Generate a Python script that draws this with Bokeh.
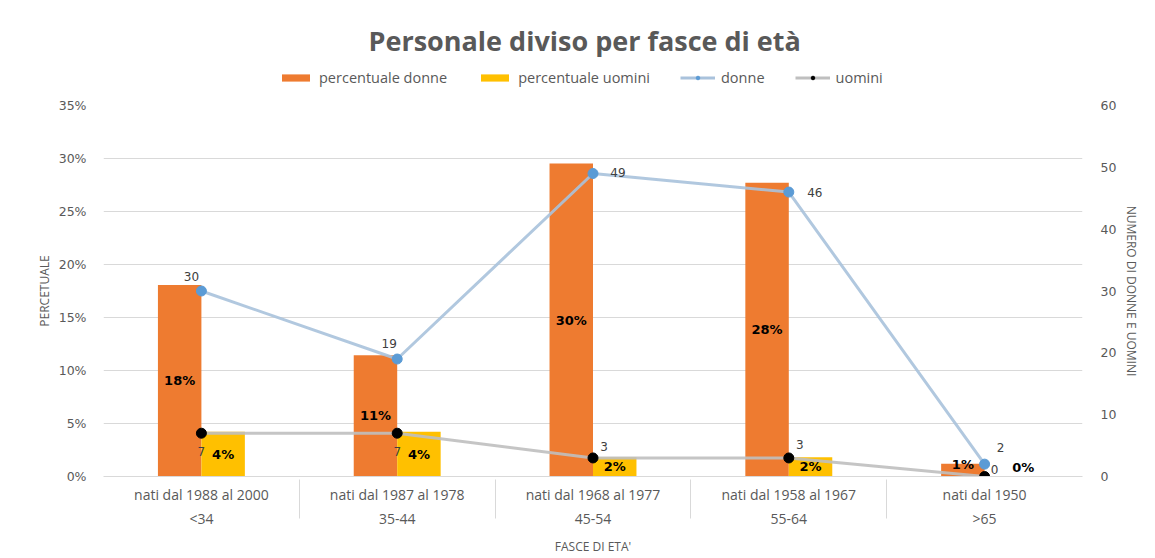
from bokeh.plotting import figure
from bokeh.layouts import column
from bokeh.models import (FactorRange, Range1d, LinearAxis, FixedTicker, NumeralTickFormatter,
                          Legend, LegendItem, ColumnDataSource)
from bokeh.transform import dodge
from bokeh.core.properties import value
from bokeh.embed import file_html
from bokeh.resources import INLINE

# ---------------- data ----------------
birth_ranges = ["nati dal 1988 al 2000", "nati dal 1987 al 1978", "nati dal 1968 al 1977",
                "nati dal 1958 al 1967", "nati dal 1950"]
age_bands = ["<34", "35-44", "45-54", "55-64", ">65"]
pct_donne = [0.1807, 0.1145, 0.2952, 0.2771, 0.0120]
pct_uomini = [0.0422, 0.0422, 0.0181, 0.0181, 0.0]
n_donne = [30, 19, 49, 46, 2]
n_uomini = [7, 7, 3, 3, 0]
pct_ticks = [0, 0.05, 0.10, 0.15, 0.20, 0.25, 0.30, 0.35]
count_ticks = [0, 10, 20, 30, 40, 50, 60]

# ---------------- label placement (style) ----------------
donne_lbl_dx = [-10, -8, 25, 26, 16]
donne_lbl_dy = [-15, -16, -1, 0, -17]
uomini_lbl_dx = [0, 0, 11, 11, 10]
uomini_lbl_dy = [18, 18, -11, -13, -7]
pd_lbl_dy = [0, 0, 0, 0, -6]
pu_lbl_dx = [0, 0, 0, 0, 17]
pu_lbl_dy = [0, 0, 0, 0, -9]

GREY = "#595959"
FONT = "Open Sans"
NUMFONT = "DejaVu Sans"
ORANGE = "#EE7B30"
YELLOW = "#FFC000"
BLUE_LINE = "#A9C2DC"
BLUE_DOT = "#5B9BD5"
GREY_LINE = "#BFBFBF"

factors = list(zip(age_bands, birth_ranges))
src = ColumnDataSource(dict(
    cat=factors,
    pd=pct_donne, pu=pct_uomini,
    pd_mid=[v / 2 for v in pct_donne], pu_mid=[v / 2 for v in pct_uomini],
    pd_txt=["{:.0%}".format(v) for v in pct_donne],
    pu_txt=["{:.0%}".format(v) for v in pct_uomini],
    nd=n_donne, nu=n_uomini,
    nd_txt=[str(v) for v in n_donne], nu_txt=[str(v) for v in n_uomini],
    ddx=donne_lbl_dx, ddy=donne_lbl_dy, udx=uomini_lbl_dx, udy=uomini_lbl_dy,
    pddy=pd_lbl_dy, pudx=pu_lbl_dx, pudy=pu_lbl_dy,
))

xr = FactorRange(*factors, range_padding=0, group_padding=0, factor_padding=0, subgroup_padding=0)

# ================= header: title + legend =================
# the header shares the data but its y windows lie outside the data, so only the legend shows
hdr = figure(width=1155, height=95, x_range=xr, y_range=Range1d(0.5, 0.6),
             output_backend="svg", toolbar_location=None,
             x_axis_location=None, y_axis_location=None,
             min_border_left=0, min_border_right=0, min_border_top=58, min_border_bottom=0)
hdr.extra_y_ranges = {"far": Range1d(-1000, -999)}
hdr.outline_line_color = None
hdr.grid.visible = False
hdr.title.text = "Personale diviso per fasce di età"
hdr.title.align = "left"
hdr.title.offset = 265
hdr.title.text_font = FONT
hdr.title.text_font_size = "27px"
hdr.title.text_font_style = "bold"
hdr.title.text_color = GREY
hdr.title.standoff = 0

hb1 = hdr.vbar(x="cat", top="pd", width=0.2, source=src, fill_color=ORANGE, line_color=None)
hb2 = hdr.vbar(x="cat", top="pu", width=0.2, source=src, fill_color=YELLOW, line_color=None)
hl1 = hdr.line(x="cat", y="nd", source=src, y_range_name="far", line_color=BLUE_LINE, line_width=3)
hm1 = hdr.scatter(x="cat", y="nd", source=src, y_range_name="far", size=8, fill_color=BLUE_DOT, line_color=BLUE_DOT)
hl2 = hdr.line(x="cat", y="nu", source=src, y_range_name="far", line_color=GREY_LINE, line_width=3)
hm2 = hdr.scatter(x="cat", y="nu", source=src, y_range_name="far", size=8, fill_color="black", line_color="black")

legend = Legend(items=[
    LegendItem(label="percentuale donne", renderers=[hb1]),
    LegendItem(label="percentuale uomini", renderers=[hb2]),
    LegendItem(label="donne", renderers=[hl1, hm1]),
    LegendItem(label="uomini", renderers=[hl2, hm2]),
], orientation="horizontal", location=(175, 8), border_line_color=None,
   background_fill_alpha=0, label_text_font=FONT, label_text_font_size="14.5px",
   label_text_color=GREY, glyph_width=35, glyph_height=9, spacing=30, padding=2, margin=0,
   label_standoff=6, label_height=18)
hdr.add_layout(legend, "center")

# ================= main chart =================
p = figure(frame_width=979, frame_height=371, x_range=xr, y_range=Range1d(0, 0.35),
           output_backend="svg", toolbar_location=None,
           min_border_left=103, min_border_right=73, min_border_top=10, min_border_bottom=82)
p.extra_y_ranges = {"n": Range1d(0, 60)}
p.outline_line_color = None
p.background_fill_color = "white"
p.border_fill_color = "white"

# grid
p.xgrid.grid_line_color = None
p.ygrid.grid_line_color = "#d9d9d9"
p.ygrid.ticker = FixedTicker(ticks=pct_ticks)

# left axis
ya = p.yaxis[0]
ya.ticker = FixedTicker(ticks=pct_ticks)
ya.formatter = NumeralTickFormatter(format="0%")
ya.axis_line_color = None
ya.major_tick_line_color = None
ya.minor_tick_line_color = None
ya.major_label_text_font = NUMFONT
ya.major_label_text_font_size = "12.5px"
ya.major_label_text_color = GREY
ya.major_label_standoff = 11
ya.axis_label = "PERCETUALE"
ya.axis_label_text_font = FONT
ya.axis_label_text_font_size = "12px"
ya.axis_label_text_font_style = "normal"
ya.axis_label_text_color = GREY
ya.axis_label_standoff = 3

# right axis
ra = LinearAxis(y_range_name="n", ticker=FixedTicker(ticks=count_ticks))
ra.axis_line_color = None
ra.major_tick_line_color = None
ra.minor_tick_line_color = None
ra.major_label_text_font = NUMFONT
ra.major_label_text_font_size = "12.5px"
ra.major_label_text_color = GREY
ra.major_label_standoff = 12
ra.axis_label = "NUMERO DI DONNE E UOMINI"
ra.axis_label_text_font = FONT
ra.axis_label_text_font_size = "12px"
ra.axis_label_text_font_style = "normal"
ra.axis_label_text_color = GREY
ra.axis_label_standoff = 4
p.add_layout(ra, "right")

# x axis
xa = p.xaxis[0]
xa.axis_line_color = "#d9d9d9"
xa.major_tick_line_color = None
xa.minor_tick_line_color = None
xa.major_label_text_font = FONT
xa.major_label_text_font_size = "14px"
xa.major_label_text_color = GREY
xa.major_label_standoff = 2
xa.group_text_font = FONT
xa.group_text_font_size = "14px"
xa.group_text_font_style = "normal"
xa.group_text_color = GREY
xa.separator_line_color = "#d9d9d9"
xa.separator_line_width = 1
xa.axis_label = "FASCE DI ETA'"
xa.axis_label_text_font = FONT
xa.axis_label_text_font_size = "12px"
xa.axis_label_text_font_style = "normal"
xa.axis_label_text_color = GREY
xa.axis_label_standoff = 7

# bars
p.vbar(x=dodge("cat", -0.111, range=p.x_range), top="pd", width=0.222, source=src,
       fill_color=ORANGE, line_color=None)
p.vbar(x=dodge("cat", 0.111, range=p.x_range), top="pu", width=0.222, source=src,
       fill_color=YELLOW, line_color=None)

# lines
p.line(x="cat", y="nd", source=src, y_range_name="n", line_color=BLUE_LINE, line_width=3, line_alpha=0.9)
p.scatter(x="cat", y="nd", source=src, y_range_name="n", size=10, fill_color=BLUE_DOT, line_color=BLUE_DOT)
p.line(x="cat", y="nu", source=src, y_range_name="n", line_color=GREY_LINE, line_width=3, line_alpha=0.9)
p.scatter(x="cat", y="nu", source=src, y_range_name="n", size=10, fill_color="black", line_color="black")

# labels
p.text(x=dodge("cat", -0.111, range=p.x_range), y="pd_mid", text="pd_txt", source=src,
       y_offset="pddy", text_align="center", text_baseline="middle",
       text_font=value(NUMFONT), text_font_style="bold", text_font_size="13px", text_color="black")
p.text(x=dodge("cat", 0.111, range=p.x_range), y="pu_mid", text="pu_txt", source=src,
       x_offset="pudx", y_offset="pudy", text_align="center", text_baseline="middle",
       text_font=value(NUMFONT), text_font_style="bold", text_font_size="13px", text_color="black")
p.text(x="cat", y="nd", text="nd_txt", source=src, y_range_name="n", x_offset="ddx", y_offset="ddy",
       text_align="center", text_baseline="middle",
       text_font=value(NUMFONT), text_font_size="12px", text_color="#404040")
p.text(x="cat", y="nu", text="nu_txt", source=src, y_range_name="n", x_offset="udx", y_offset="udy",
       text_align="center", text_baseline="middle",
       text_font=value(NUMFONT), text_font_size="12px", text_color="#404040")

layout = column(hdr, p, spacing=0)
open("out.html", "w").write(file_html(layout, INLINE))
